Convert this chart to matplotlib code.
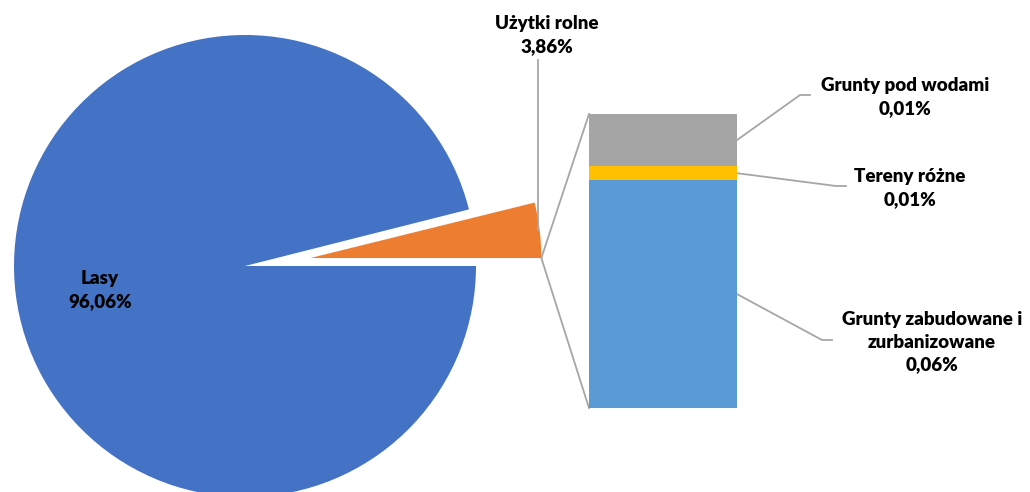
"""
Struktura użytkowania gruntów - wykres kołowy z wykresem słupkowym (pie of bar).
"""

import matplotlib
matplotlib.use("Agg")
import matplotlib.pyplot as plt
import numpy as np

# Dane - koło główne (kolejność: od kąta 0 przeciwnie do ruchu wskazówek)
pie_labels = ["Użytki rolne", "Pozostałe", "Lasy"]
pie_values = [3.86, 0.08, 96.06]
pie_text = ["Użytki rolne\n3,86%", "", "Lasy\n96,06%"]

# Dane - słupek (od dołu do góry)
bar_labels = ["Grunty zabudowane i\nzurbanizowane", "Tereny różne", "Grunty pod wodami"]
bar_values = [0.062, 0.0038, 0.0142]
bar_pct = ["0,06%", "0,01%", "0,01%"]

pie_colors = ["#ED7D31", "none", "#4472C4"]
bar_colors = ["#5B9BD5", "#FFC000", "#A5A5A5"]
line_color = "#A6A6A6"

plt.rcParams['font.family'] = ['Lato', 'DejaVu Sans']
FS = 13.5
FW = 'heavy'

W, H = 1030, 492
fig = plt.figure(figsize=(W / 100, H / 100), dpi=100)

# Axe principal en pixels (y vers le haut)
ax = fig.add_axes([0, 0, 1, 1])
center = (245, H - 266)
radius = 231
offset = 0.285 * radius  # wysunięcie wycinka "Użytki rolne"
explode = [offset, 0, 0]
ax.pie(pie_values, colors=pie_colors, startangle=0, counterclock=True,
       center=center, radius=radius, explode=explode,
       wedgeprops=dict(linewidth=0))
ax.set_xlim(0, W)
ax.set_ylim(0, H)
ax.set_aspect('auto')
ax.axis('off')

# Słupek w osobnych osiach
bx = fig.add_axes([589 / W, (H - 408) / H, 148 / W, 294 / H])
bottoms = np.concatenate([[0], np.cumsum(bar_values)[:-1]])
bx.bar([0] * len(bar_values), bar_values, bottom=bottoms, width=1.0,
       color=bar_colors, linewidth=0)
bx.set_xlim(-0.5, 0.5)
bx.set_ylim(0, sum(bar_values))
bx.axis('off')


def to_main(x, y, transform):
    disp = transform.transform((x, y))
    return ax.transData.inverted().transform(disp)


# Linie łączące koło ze słupkiem
mid_angle = np.deg2rad(pie_values[0] / 100 * 360 / 2)
tip = (center[0] + offset * np.cos(mid_angle) + radius,
       center[1] + offset * np.sin(mid_angle))
for yb in (0, 1):
    p = to_main(0, yb, bx.transAxes)
    ax.plot([tip[0], p[0]], [tip[1], p[1]], color=line_color, lw=1.3)

# Etykiety koła
ax.text(100, H - 290, pie_text[2], ha='center', va='center', fontsize=FS,
        fontweight=FW, linespacing=1.4)
ax.text(547, H - 35, pie_text[0], ha='center', va='center', fontsize=FS,
        fontweight=FW, linespacing=1.4)
ax.plot([538, 538], [H - 60, H - 230], color=line_color, lw=1.3)

# Etykiety słupka
label_pos = [(932, H - 342, 832, H - 340),
             (910, H - 188, 846, H - 186),
             (905, H - 97, 810, H - 95)]
for i, (lbl, pct) in enumerate(zip(bar_labels, bar_pct)):
    tx, ty, ex, ey = label_pos[i]
    p = to_main(0, bottoms[i] + bar_values[i] / 2, bx.transData)
    px = bx.transAxes.transform((1, 0))[0]
    px = ax.transData.inverted().transform((px, 0))[0]
    ax.plot([px, ex - 10, ex], [p[1], ey, ey], color=line_color, lw=1.3)
    ax.text(tx, ty, f"{lbl}\n{pct}", ha='center', va='center', fontsize=FS,
            fontweight=FW, linespacing=1.4)

plt.savefig("out.png", dpi=100, facecolor='white')
plt.close()
